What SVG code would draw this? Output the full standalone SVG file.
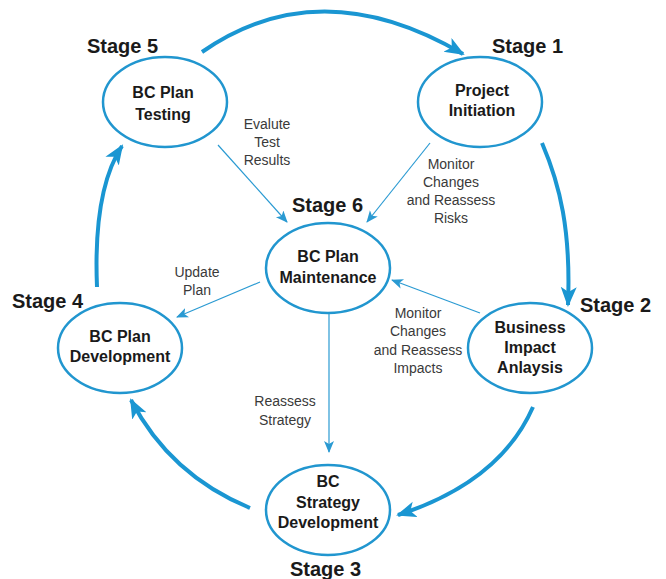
<svg xmlns="http://www.w3.org/2000/svg" width="666" height="579" viewBox="0 0 666 579">
<defs>
<style>
.node ellipse{fill:#fff;stroke:#2196cf;stroke-width:2.5}
.nt{font-family:"Liberation Sans",Arial,sans-serif;font-weight:bold;font-size:16px;fill:#1a1a1a;text-anchor:middle}
.st{font-family:"Liberation Sans",Arial,sans-serif;font-weight:bold;font-size:20px;fill:#1a1a1a}
.el{font-family:"Liberation Sans",Arial,sans-serif;font-size:14px;fill:#3a3a3a;text-anchor:middle}
.big{fill:none;stroke:#1a96d2;stroke-width:4;marker-end:url(#hb)}
.thin{fill:none;stroke:#2a9ad2;stroke-width:1.2;marker-end:url(#hs)}
</style>
<marker id="hb" markerUnits="userSpaceOnUse" markerWidth="22" markerHeight="18" refX="18" refY="8" orient="auto" viewBox="0 0 22 18">
<path d="M0,0 L20,8 L0,16 L5,8 z" fill="#1a96d2"/>
</marker>
<marker id="hs" markerUnits="userSpaceOnUse" markerWidth="14" markerHeight="12" refX="11" refY="5" orient="auto" viewBox="0 0 14 12">
<path d="M0,0 L12,5 L0,10 L3,5 z" fill="#2a9ad2"/>
</marker>
</defs>
<rect width="666" height="579" fill="#fff"/>
<g id="connectors">
<path class="big" d="M202,52 Q320,-30 463,54"/>
<path class="big" d="M542,143 C560,185 571,230 568,305"/>
<path class="big" d="M533,407 Q500,482 398,515"/>
<path class="big" d="M250,508 Q170,475 131,400"/>
<path class="big" d="M97,287 Q93,190 122,146"/>
<path class="thin" d="M218,145 L287,222"/>
<path class="thin" d="M430,143 L367,222"/>
<path class="thin" d="M260,282 L177,317"/>
<path class="thin" d="M480,313 L392,280"/>
<path class="thin" d="M329,312 L329,452"/>
</g>
<g id="edge-labels">
<text class="el" x="267" y="129">Evalute</text>
<text class="el" x="267" y="147">Test</text>
<text class="el" x="267" y="165">Results</text>
<text class="el" x="451" y="169">Monitor</text>
<text class="el" x="451" y="187">Changes</text>
<text class="el" x="451" y="205">and Reassess</text>
<text class="el" x="451" y="223">Risks</text>
<text class="el" x="197" y="277">Update</text>
<text class="el" x="197" y="295">Plan</text>
<text class="el" x="418" y="318">Monitor</text>
<text class="el" x="418" y="336">Changes</text>
<text class="el" x="418" y="355">and Reassess</text>
<text class="el" x="418" y="373">Impacts</text>
<text class="el" x="285" y="406">Reassess</text>
<text class="el" x="285" y="425">Strategy</text>
</g>
<g id="stage5" class="node">
<ellipse cx="165" cy="102" rx="62" ry="45"/>
<text class="nt" x="163" y="98">BC Plan</text>
<text class="nt" x="163" y="120">Testing</text>
<text class="st" x="87" y="53">Stage 5</text>
</g>
<g id="stage1" class="node">
<ellipse cx="480" cy="102" rx="62" ry="45"/>
<text class="nt" x="482" y="96">Project</text>
<text class="nt" x="482" y="116">Initiation</text>
<text class="st" x="492" y="53">Stage 1</text>
</g>
<g id="stage6" class="node">
<ellipse cx="328" cy="268" rx="62" ry="45"/>
<text class="nt" x="328" y="262">BC Plan</text>
<text class="nt" x="328" y="283">Maintenance</text>
<text class="st" x="292" y="212">Stage 6</text>
</g>
<g id="stage4" class="node">
<ellipse cx="120" cy="348" rx="62" ry="45"/>
<text class="nt" x="120" y="342">BC Plan</text>
<text class="nt" x="120" y="362">Development</text>
<text class="st" x="12" y="308">Stage 4</text>
</g>
<g id="stage2" class="node">
<ellipse cx="530" cy="348" rx="62" ry="45"/>
<text class="nt" x="530" y="333">Business</text>
<text class="nt" x="530" y="353">Impact</text>
<text class="nt" x="530" y="373">Anlaysis</text>
<text class="st" x="580" y="312">Stage 2</text>
</g>
<g id="stage3" class="node">
<ellipse cx="328" cy="510" rx="62" ry="45"/>
<text class="nt" x="328" y="487">BC</text>
<text class="nt" x="328" y="508">Strategy</text>
<text class="nt" x="328" y="528">Development</text>
<text class="st" x="290" y="576">Stage 3</text>
</g>
</svg>
